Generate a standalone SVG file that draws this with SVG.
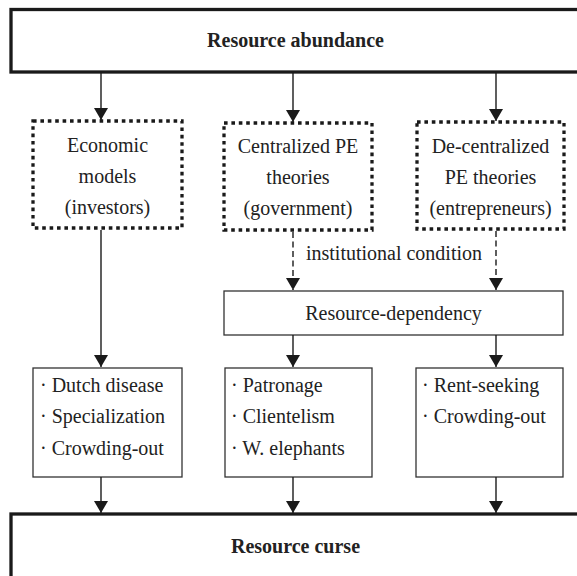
<svg xmlns="http://www.w3.org/2000/svg" width="577" height="576" viewBox="0 0 577 576">
<defs>
<marker id="ah" markerUnits="userSpaceOnUse" markerWidth="14" markerHeight="14" viewBox="0 -7 12 14" refX="12" refY="0" orient="auto">
<path d="M0,-7 L12,0 L0,7 z" fill="#1a1a1a" stroke="none"/>
</marker>
</defs>
<style>
text{font-family:"Liberation Serif","Times New Roman",serif;font-size:20px;fill:#222}
.b{font-weight:bold}
.c{text-anchor:middle}
.thick{fill:#fff;stroke:#1a1a1a;stroke-width:3.3}
.dot{fill:#fff;stroke:#1a1a1a;stroke-width:3.3;stroke-dasharray:3.6 3.8}
.thin{fill:#fff;stroke:#333;stroke-width:1.3}
.ar{fill:none;stroke:#1a1a1a;stroke-width:1.4;marker-end:url(#ah)}
.da{stroke-dasharray:6 3.5}
</style>
<g id="resource-abundance">
<rect class="thick" x="11" y="9.5" width="580" height="62.5"/>
<text class="b c" x="295.5" y="47">Resource abundance</text>
</g>
<g id="economic-models">
<rect class="dot" x="33" y="121" width="149" height="107"/>
<text class="c" x="107.5" y="152">Economic</text>
<text class="c" x="107.5" y="183">models</text>
<text class="c" x="107.5" y="214">(investors)</text>
</g>
<g id="centralized-pe">
<rect class="dot" x="224" y="123" width="148" height="107"/>
<text class="c" x="298" y="153">Centralized PE</text>
<text class="c" x="298" y="184">theories</text>
<text class="c" x="298" y="215">(government)</text>
</g>
<g id="decentralized-pe">
<rect class="dot" x="417" y="122" width="147" height="107"/>
<text class="c" x="490.5" y="153">De-centralized</text>
<text class="c" x="490.5" y="184">PE theories</text>
<text class="c" x="490.5" y="215">(entrepreneurs)</text>
</g>
<g id="resource-dependency">
<rect class="thin" x="224" y="291" width="339" height="44"/>
<text class="c" x="393.5" y="320">Resource-dependency</text>
</g>
<g id="economic-effects">
<rect class="thin" x="33" y="368" width="149" height="109"/>
<text x="40" y="392">· Dutch disease</text>
<text x="40" y="423">· Specialization</text>
<text x="40" y="455">· Crowding-out</text>
</g>
<g id="centralized-effects">
<rect class="thin" x="225" y="368" width="147" height="109"/>
<text x="231" y="392">· Patronage</text>
<text x="231" y="423">· Clientelism</text>
<text x="231" y="455">· W. elephants</text>
</g>
<g id="decentralized-effects">
<rect class="thin" x="416" y="368" width="147" height="109"/>
<text x="422" y="392">· Rent-seeking</text>
<text x="422" y="423">· Crowding-out</text>
</g>
<g id="resource-curse">
<rect class="thick" x="11" y="514" width="580" height="66"/>
<text class="b c" x="295.5" y="553">Resource curse</text>
</g>
<g id="connectors">
<line class="ar" x1="101" y1="72" x2="101" y2="120"/>
<line class="ar" x1="293" y1="72" x2="293" y2="122"/>
<line class="ar" x1="496" y1="72" x2="496" y2="121"/>
<line class="ar da" x1="293" y1="232" x2="293" y2="290"/>
<line class="ar da" x1="496" y1="231" x2="496" y2="290"/>
<text class="c" x="394" y="260">institutional condition</text>
<line class="ar" x1="101" y1="230" x2="101" y2="367"/>
<line class="ar" x1="293" y1="335" x2="293" y2="367"/>
<line class="ar" x1="496" y1="335" x2="496" y2="367"/>
<line class="ar" x1="101" y1="477" x2="101" y2="513"/>
<line class="ar" x1="293" y1="477" x2="293" y2="513"/>
<line class="ar" x1="496" y1="477" x2="496" y2="513"/>
</g>
</svg>
